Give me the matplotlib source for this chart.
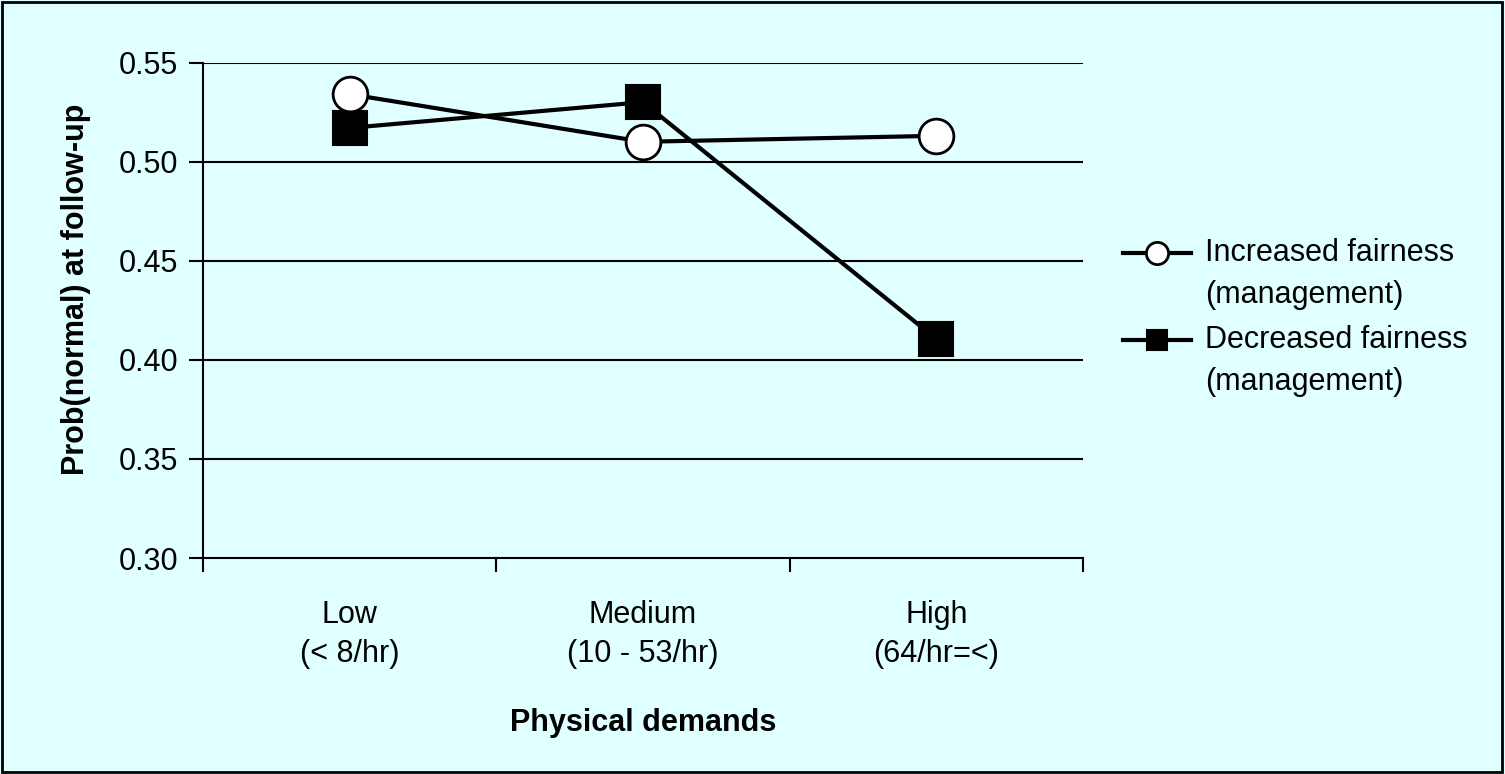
import matplotlib
matplotlib.use('Agg')
import matplotlib.pyplot as plt
from matplotlib.patches import Rectangle
from matplotlib.lines import Line2D

plt.rcParams['font.family'] = ['Liberation Sans', 'DejaVu Sans']

# data
categories = ['Low\n(< 8/hr)', 'Medium\n(10 - 53/hr)', 'High\n(64/hr=<)']
increased = [0.534, 0.510, 0.513]
decreased = [0.517, 0.530, 0.4105]
series_names = ['Increased fairness', 'Decreased fairness']
yticks = [0.30, 0.35, 0.40, 0.45, 0.50, 0.55]

W, H = 1505, 774
bg = '#E0FFFF'
fs = 22
fig = plt.figure(figsize=(W / 100, H / 100), dpi=100, facecolor=bg)
ax = fig.add_axes([203 / W, 1 - 558 / H, 880 / W, 495.5 / H])
ax.set_facecolor(bg)

x = [i + 0.5 for i in range(len(categories))]
st_inc = dict(color='black', lw=3, marker='o', mfc='white', mec='black', mew=2)
st_dec = dict(color='black', lw=3, marker='s', mfc='black', mec='black', mew=1.5)
ax.plot(x, increased, ms=25, zorder=4, **st_inc)
ax.plot(x, decreased, ms=24, zorder=3, **st_dec)

ax.set_xlim(0, 3)
ax.set_ylim(0.30, 0.55)
ax.set_yticks(yticks)
ax.set_yticklabels(['%.2f' % v for v in yticks], fontsize=fs)
ax.set_xticks([0, 1, 2, 3])
ax.set_xticklabels([])
ax.tick_params(axis='both', direction='out', length=10, width=1.5, colors='black')
ax.tick_params(axis='y', pad=8)
for yv in yticks[1:]:
    ax.axhline(yv, color='black', lw=1.5, zorder=1)
for s in ['top', 'right']:
    ax.spines[s].set_visible(False)
for s in ['left', 'bottom']:
    ax.spines[s].set_linewidth(1.5)

for xi, lab in zip(x, categories):
    ax.text(xi, -0.085, lab, transform=ax.get_xaxis_transform(), ha='center',
            va='top', fontsize=fs, linespacing=1.4)

fig.text(643 / W, 1 - 723 / H, 'Physical demands', fontsize=fs, fontweight='bold',
         ha='center', va='center')
fig.text(76 / W, 1 - 289 / H, 'Prob(normal) at follow-up', fontsize=fs,
         fontweight='bold', rotation=90, ha='center', va='center')

# legend, handle lined up with the first text line as in the reference
for (name, st, ms, yl) in [(series_names[0], st_inc, 16, 253), (series_names[1], st_dec, 15, 340)]:
    yf = 1 - yl / H
    fig.add_artist(Line2D([1123 / W, 1157 / W, 1191 / W], [yf, yf, yf], transform=fig.transFigure,
                          markevery=[1], ms=ms, **st))
    fig.text(1205 / W, yf, name, fontsize=fs, ha='left', va='center')
    fig.text(1205 / W, yf - 42 / H, '(management)', fontsize=fs, ha='left', va='center')

fig.patches.append(Rectangle((0.001, 0.002), 0.997, 0.996, transform=fig.transFigure,
                             fill=False, edgecolor='black', lw=2))

fig.savefig('out.png', dpi=100, facecolor=bg)
